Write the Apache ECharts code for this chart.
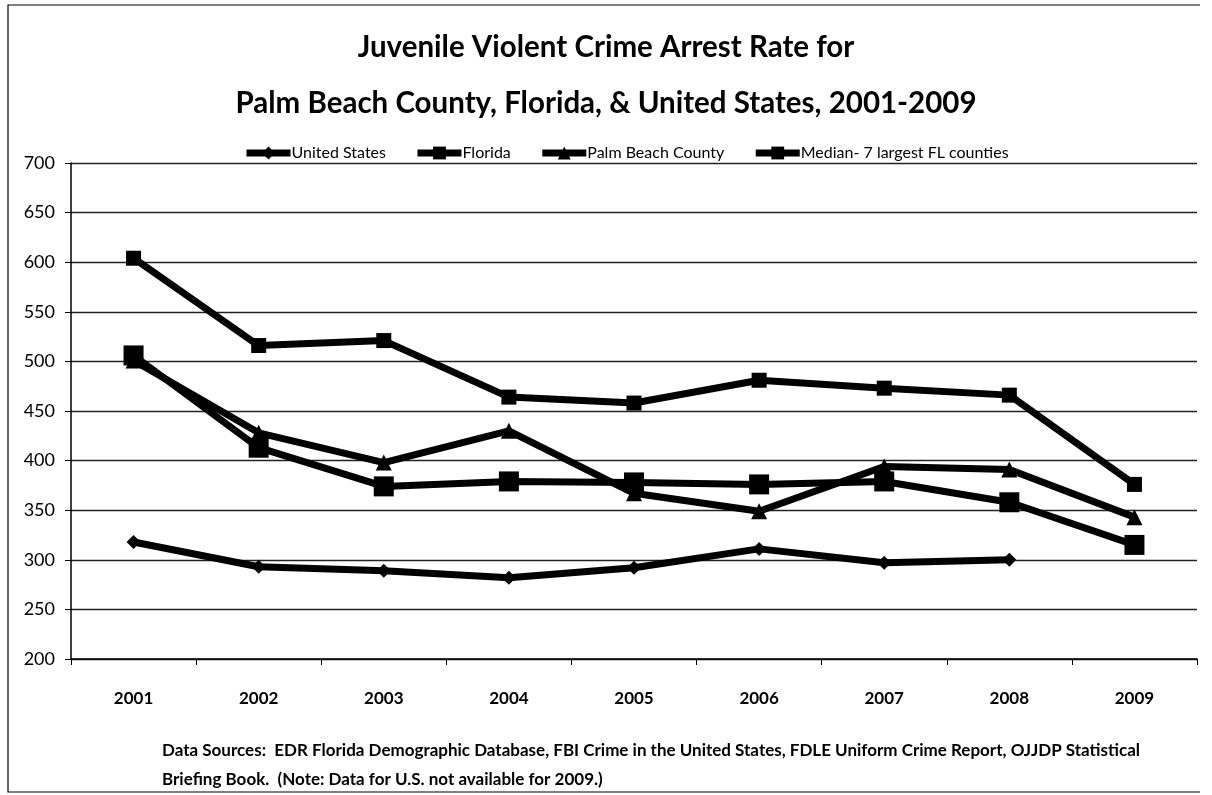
<!DOCTYPE html>
<html><head><meta charset="utf-8">
<script src="https://cdn.jsdelivr.net/npm/echarts@6/dist/echarts.min.js"></script>
<style>html,body{margin:0;padding:0;background:#fff}#c{width:1212px;height:795px}</style>
</head><body><div id="c"></div>
<script>
const years = ['2001','2002','2003','2004','2005','2006','2007','2008','2009'];
const unitedStates = [318, 293, 289, 282, 292, 311, 297, 300, null];
const florida = [506, 413, 374, 379, 378, 376, 379, 358, 315];
const palmBeach = [501, 428, 398, 430, 367, 349, 394, 391, 343];
const median7 = [604, 516, 521, 464, 458, 481, 473, 466, 376];
const yTicks = [200, 250, 300, 350, 400, 450, 500, 550, 600, 650, 700];
const titleLines = ['Juvenile Violent Crime Arrest Rate for', 'Palm Beach County, Florida, & United States, 2001-2009'];
const noteLines = ['Data Sources:  EDR Florida Demographic Database, FBI Crime in the United States, FDLE Uniform Crime Report, OJJDP Statistical', 'Briefing Book.  (Note: Data for U.S. not available for 2009.)'];

const FONT = 'Lato, "Liberation Sans", sans-serif';
const chart = echarts.init(document.getElementById('c'), null, {renderer: 'canvas'});
function mk(name, data, symbol, size, lw) {
  return {name, type: 'line', data, symbol, symbolSize: size, showSymbol: true,
    lineStyle: {color: '#000', width: lw}, itemStyle: {color: '#000'},
    connectNulls: false, animation: false, z: 3};
}
chart.setOption({
  animation: false,
  backgroundColor: '#fff',
  title: {
    text: titleLines.join('\n'), left: 'center', top: 14,
    textStyle: {fontFamily: FONT, fontWeight: 'bold', fontSize: 29.5, lineHeight: 56, color: '#000'}
  },
  legend: {
    top: 140, left: 238, itemWidth: 44, itemHeight: 16, itemGap: 28,
    lineStyle: {width: 7},
    textStyle: {fontFamily: FONT, fontSize: 16, color: '#000', padding: [0,0,0,-4]},
    data: ['United States', 'Florida', 'Palm Beach County', 'Median- 7 largest FL counties']
  },
  grid: {left: 71, right: 15, top: 163, bottom: 136, containLabel: false},
  xAxis: {
    type: 'category', data: years, boundaryGap: true,
    axisLine: {lineStyle: {color: '#000', width: 1.5}},
    axisTick: {show: true, length: 6, inside: false, lineStyle: {color: '#000'}},
    axisLabel: {fontFamily: FONT, fontSize: 17, fontWeight: 'bold', color: '#000', margin: 31}
  },
  yAxis: {
    type: 'value', min: 200, max: 700, interval: 50,
    axisLine: {show: true, lineStyle: {color: '#000', width: 1.5}},
    axisTick: {show: true, length: 6, lineStyle: {color: '#000'}},
    axisLabel: {fontFamily: FONT, fontSize: 18, color: '#000', margin: 16},
    splitLine: {lineStyle: {color: '#222', width: 1.3}}
  },
  series: [
    mk('United States', unitedStates, 'diamond', 14, 7),
    mk('Florida', florida, 'rect', 20, 7),
    mk('Palm Beach County', palmBeach, 'triangle', 16, 7),
    mk('Median- 7 largest FL counties', median7, 'rect', 15, 7)
  ],
  graphic: [
    {type: 'polyline', shape: {points: [[1200, 5], [8, 5], [8, 792], [1200, 792]]}, style: {stroke: '#000', lineWidth: 1.2, fill: null}},
    {type: 'text', left: 162, top: 736, style: {text: noteLines.join('\n'), font: 'bold 17px ' + FONT, lineHeight: 29, fill: '#000'}}
  ]
});
</script></body></html>
